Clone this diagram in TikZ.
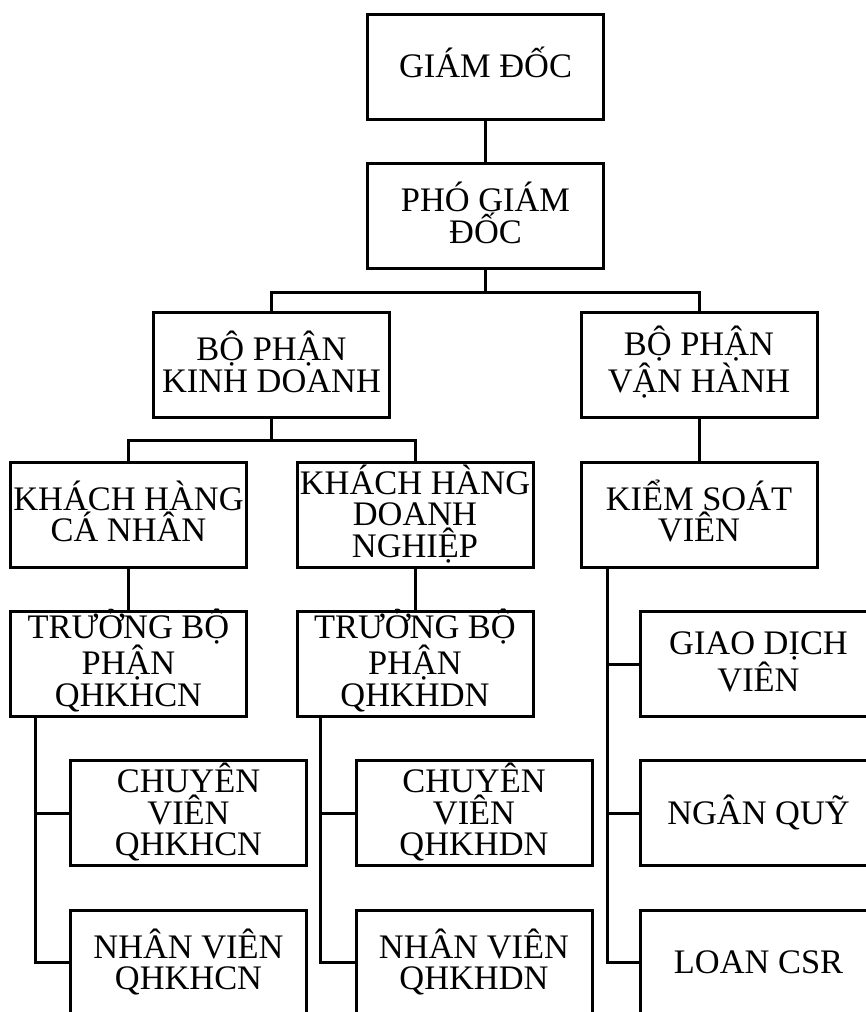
\documentclass[tikz,border=0pt]{standalone}
\usepackage{fontspec}
\setmainfont{Liberation Serif}
\begin{document}
\begin{tikzpicture}[x=1pt,y=-1pt,
  box/.style={draw, line width=3pt, minimum width=236pt, minimum height=105pt,
    inner sep=0pt, align=center, font=\fontsize{34.4}{31.5}\selectfont, text depth=0pt},
  lone/.style={text height=22.8pt},
  ltwo/.style={text height=54.3pt},
  lthree/.style={text height=85.8pt},
  conn/.style={line width=3pt, line join=miter}]
\useasboundingbox (0,0) rectangle (866,1012);
\clip (0,0) rectangle (866,1012);
\fill[white] (0,0) rectangle (866,1012);

% nodes
\node[box,lone]   (gd)   at (485.5,66.5) {GIÁM ĐỐC};
\node[box,ltwo]   (pgd)  at (485.5,216)  {PHÓ GIÁM\\ĐỐC};
\node[box,ltwo]   (bpkd) at (271.5,365)  {BỘ PHẬN\\KINH DOANH};
\node[box,ltwo]   (bpvh) at (699,365)    {BỘ PHẬN\\VẬN HÀNH};
\node[box,ltwo]   (khcn) at (128.5,514.5){KHÁCH HÀNG\\CÁ NHÂN};
\node[box,lthree] (khdn) at (415,514.5)  {KHÁCH HÀNG\\DOANH\\NGHIỆP};
\node[box,ltwo]   (ksv)  at (699,514.5)  {KIỂM SOÁT\\VIÊN};
\node[box,lthree] (tbpa) at (128.5,663.5){TRƯỞNG BỘ\\PHẬN\\QHKHCN};
\node[box,lthree] (tbpb) at (415,663.5)  {TRƯỞNG BỘ\\PHẬN\\QHKHDN};
\node[box,lthree] (cva)  at (188.5,813)  {CHUYÊN\\VIÊN\\QHKHCN};
\node[box,lthree] (cvb)  at (474,813)    {CHUYÊN\\VIÊN\\QHKHDN};
\node[box,ltwo]   (nva)  at (188.5,962.5){NHÂN VIÊN\\QHKHCN};
\node[box,ltwo]   (nvb)  at (474,962.5)  {NHÂN VIÊN\\QHKHDN};
\node[box,ltwo]   (gdv)  at (758.5,664)  {GIAO DỊCH\\VIÊN};
\node[box,lone]   (nq)   at (758.5,813)  {NGÂN QUỸ};
\node[box,lone]   (loan) at (758.5,962.5){LOAN CSR};

% junction coordinates
\coordinate (ja) at (485.5,292);
\coordinate (jb) at (271.5,440);
\coordinate (ta) at (35,716);
\coordinate (tb) at (320,716);
\coordinate (tc) at (607,567);

% connectors
\draw[conn] (gd.south) -- (pgd.north);
\draw[conn] (pgd.south) -- (ja);
\draw[conn] (bpkd.north) |- (ja) -| (bpvh.north);
\draw[conn] (bpkd.south) -- (jb);
\draw[conn] (khcn.north) |- (jb) -| (khdn.north);
\draw[conn] (bpvh.south) -- (ksv.north);
\draw[conn] (khcn.south) -- (tbpa.north);
\draw[conn] (khdn.south) -- (tbpb.north);
\draw[conn] (ta) |- (nva.west);
\draw[conn] (ta) |- (cva.west);
\draw[conn] (tb) |- (nvb.west);
\draw[conn] (tb) |- (cvb.west);
\draw[conn] (tc) |- (loan.west);
\draw[conn] (tc) |- (nq.west);
\draw[conn] (tc) |- (gdv.west);
\end{tikzpicture}
\end{document}
